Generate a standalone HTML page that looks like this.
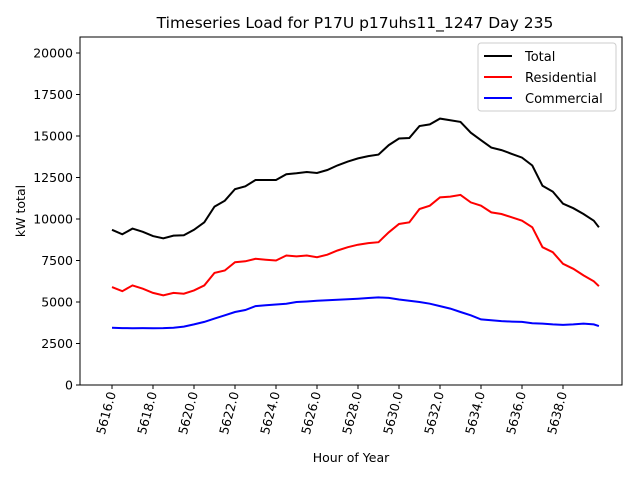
<!DOCTYPE html>
<html><head><meta charset="utf-8"><style>body{margin:0;background:#fff}svg{font-family:"DejaVu Sans","Liberation Sans",sans-serif}</style></head>
<body>
<svg id="c" width="640" height="480" viewBox="0 0 640 480"></svg>
<script>
const hours=[];for(let h=5616;h<=5639.5;h+=0.5)hours.push(h);hours.push(5639.75);
const residential=[5900,5650,6000,5800,5550,5400,5550,5500,5700,6000,6750,6900,7400,7450,7600,7550,7500,7800,7750,7800,7700,7850,8100,8300,8450,8550,8600,9200,9700,9800,10600,10800,11300,11350,11450,11000,10800,10400,10300,10100,9900,9500,8300,8000,7300,7000,6600,6250,5950];
const commercial=[3450,3430,3420,3430,3420,3430,3450,3520,3650,3800,4000,4200,4400,4520,4750,4800,4850,4900,5000,5030,5070,5100,5130,5160,5200,5240,5280,5250,5150,5080,5000,4900,4750,4600,4400,4200,3950,3900,3850,3820,3800,3720,3700,3650,3620,3650,3700,3650,3550];
const total=residential.map((r,i)=>r+commercial[i]);
const yTicks=[0,2500,5000,7500,10000,12500,15000,17500,20000];
const xTicks=[5616,5618,5620,5622,5624,5626,5628,5630,5632,5634,5636,5638];
const L=80,R=622,T=37,B=385;
const xs=h=>112+(h-5616)*(563-112)/22;
const ys=v=>B-v*(B-53)/20000;
const svg=document.getElementById('c');const NS='http://www.w3.org/2000/svg';
function mk(t,a,txt){const e=document.createElementNS(NS,t);for(const k in a)e.setAttribute(k,a[k]);if(txt!=null)e.textContent=txt;svg.appendChild(e);return e;}
let e;
e=mk('rect',{x:L,y:T,width:R-L,height:B-T,fill:'none',stroke:'#000','stroke-width':1});


yTicks.forEach(v=>{const y=ys(v);
e=mk('line',{x1:L-4,x2:L,y1:y,y2:y,stroke:'#000'});


e=mk('text',{x:L-7,y:y+4.5,'text-anchor':'end','font-size':12.5},String(v));

});
xTicks.forEach(h=>{const x=xs(h);
e=mk('line',{x1:x,x2:x,y1:B,y2:B+4,stroke:'#000'});


e=mk('text',{x:x+4,y:B+8,'text-anchor':'end','font-size':12.5,transform:`rotate(-75 ${x+4} ${B+8})`},h.toFixed(1));

});
function line(vals,color,name){const d=vals.map((v,i)=>(i?'L':'M')+xs(hours[i]).toFixed(1)+' '+ys(v).toFixed(1)).join(' ');
e=mk('path',{d:d,fill:'none',stroke:color,'stroke-width':2});

}
line(total,'#000','total-line');line(residential,'#f00','residential-line');line(commercial,'#00f','commercial-line');
e=mk('text',{x:355,y:28,'text-anchor':'middle','font-size':15.5},'Timeseries Load for P17U p17uhs11_1247  Day 235');


e=mk('text',{x:351,y:462,'text-anchor':'middle','font-size':12.5},'Hour of Year');


e=mk('text',{x:25,y:211,'text-anchor':'middle','font-size':12.5,transform:'rotate(-90 25 211)'},'kW total');


e=mk('rect',{x:478,y:43,width:138,height:68,rx:3,fill:'#fff',stroke:'#ccc'});


[['Total','#000'],['Residential','#f00'],['Commercial','#00f']].forEach((s,i)=>{const y=56+i*21;
e=mk('line',{x1:484,x2:512,y1:y,y2:y,stroke:s[1],'stroke-width':2});


e=mk('text',{x:525,y:y+5,'font-size':13},s[0]);

});
</script>
</body></html>
